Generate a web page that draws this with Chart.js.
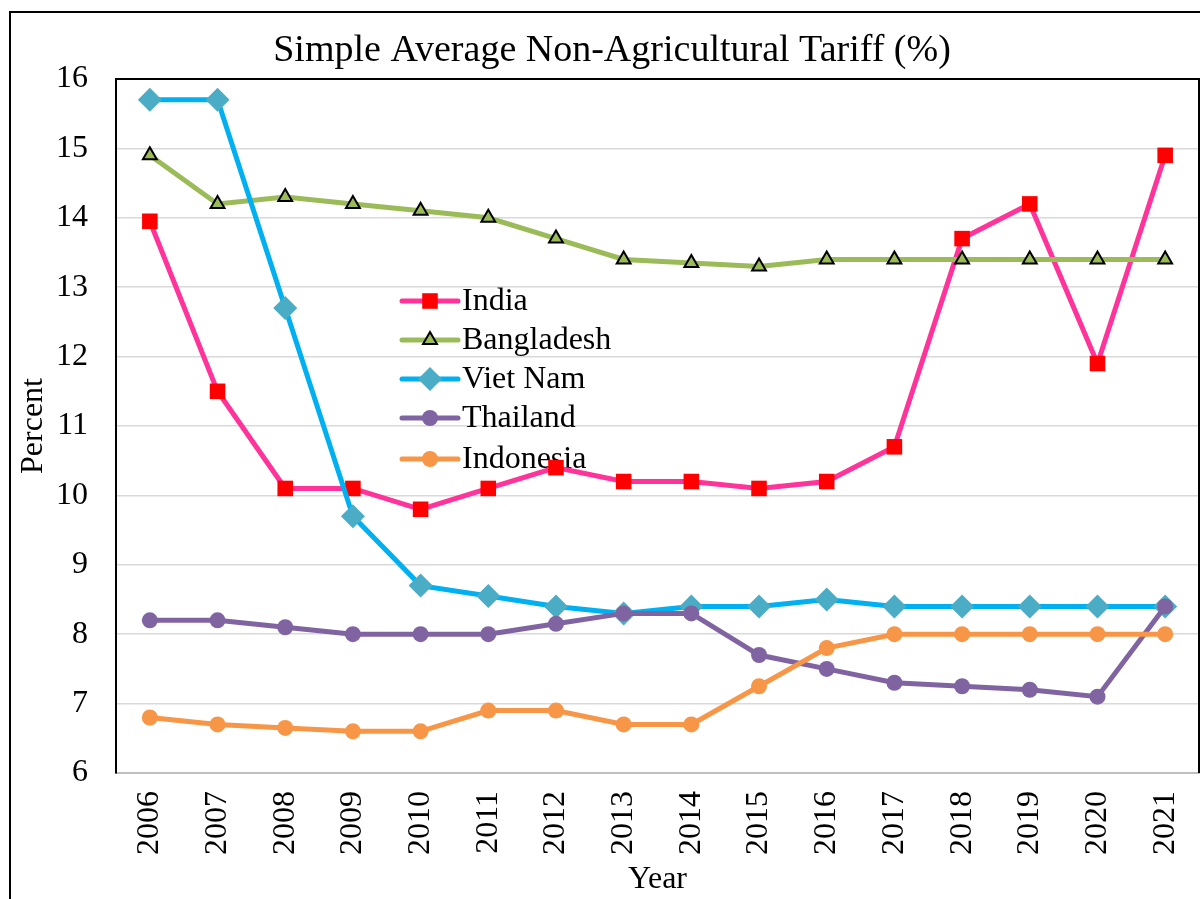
<!DOCTYPE html>
<html>
<head>
<meta charset="utf-8">
<script src="https://cdn.jsdelivr.net/npm/chart.js@4/dist/chart.umd.min.js"></script>
<style>
  html, body { margin: 0; padding: 0; background: #fff; }
  #wrap { position: relative; width: 1200px; height: 899px; }
</style>
</head>
<body>
<div id="wrap"><canvas id="c" width="1200" height="899"></canvas></div>
<script>
const years = ['2006','2007','2008','2009','2010','2011','2012','2013','2014','2015','2016','2017','2018','2019','2020','2021'];
const india      = [13.95, 11.5, 10.1, 10.1, 9.8, 10.1, 10.4, 10.2, 10.2, 10.1, 10.2, 10.7, 13.7, 14.2, 11.9, 14.9];
const bangladesh = [14.9, 14.2, 14.3, 14.2, 14.1, 14.0, 13.7, 13.4, 13.35, 13.3, 13.4, 13.4, 13.4, 13.4, 13.4, 13.4];
const vietnam    = [15.7, 15.7, 12.7, 9.7, 8.7, 8.55, 8.4, 8.3, 8.4, 8.4, 8.5, 8.4, 8.4, 8.4, 8.4, 8.4];
const thailand   = [8.2, 8.2, 8.1, 8.0, 8.0, 8.0, 8.15, 8.3, 8.3, 7.7, 7.5, 7.3, 7.25, 7.2, 7.1, 8.4];
const indonesia  = [6.8, 6.7, 6.65, 6.6, 6.6, 6.9, 6.9, 6.7, 6.7, 7.25, 7.8, 8.0, 8.0, 8.0, 8.0, 8.0];
const seriesNames = ['India', 'Bangladesh', 'Viet Nam', 'Thailand', 'Indonesia'];
const titleText = 'Simple Average Non-Agricultural Tariff (%)';

const FONT = "'Liberation Serif', 'Times New Roman', serif";

const datasets = [
  { label: seriesNames[0], data: india, borderColor: '#FF3399', backgroundColor: '#FF0000',
    pointStyle: 'rect', pointRadius: 11, pointBorderWidth: 0, pointBorderColor: '#FF0000', order: 5 },
  { label: seriesNames[1], data: bangladesh, borderColor: '#9BBB59', backgroundColor: '#9BBB59',
    pointStyle: 'triangle', pointRadius: 8, pointBorderWidth: 2, pointBorderColor: '#000000', order: 4 },
  { label: seriesNames[2], data: vietnam, borderColor: '#00B0F0', backgroundColor: '#4BACC6',
    pointStyle: 'rectRot', pointRadius: 12, pointBorderWidth: 0, pointBorderColor: '#4BACC6', order: 3 },
  { label: seriesNames[3], data: thailand, borderColor: '#8064A2', backgroundColor: '#8064A2',
    pointStyle: 'circle', pointRadius: 8, pointBorderWidth: 0, pointBorderColor: '#8064A2', order: 2 },
  { label: seriesNames[4], data: indonesia, borderColor: '#F79646', backgroundColor: '#F79646',
    pointStyle: 'circle', pointRadius: 8, pointBorderWidth: 0, pointBorderColor: '#F79646', order: 1 }
].map(d => Object.assign({
  borderWidth: 5, tension: 0, fill: false, clip: false,
  pointBackgroundColor: d.backgroundColor, pointHoverRadius: d.pointRadius
}, d));

const legendPlugin = {
  id: 'insideLegend',
  beforeDatasetsDraw(chart) {
    const ctx = chart.ctx;
    const x0 = 402, x1 = 458, tx = 462;
    const ys = [301, 340, 379, 418, 459];
    ctx.save();
    chart.data.datasets.forEach((ds, i) => {
      const y = ys[i];
      ctx.beginPath();
      ctx.strokeStyle = ds.borderColor;
      ctx.lineWidth = 5;
      ctx.lineCap = 'round';
      ctx.moveTo(x0, y); ctx.lineTo(x1, y); ctx.stroke();
      ctx.fillStyle = ds.pointBackgroundColor;
      ctx.strokeStyle = ds.pointBorderColor;
      ctx.lineWidth = ds.pointBorderWidth;
      Chart.helpers.drawPoint(ctx, {
        pointStyle: ds.pointStyle, radius: ds.pointRadius, borderWidth: ds.pointBorderWidth, rotation: 0
      }, (x0 + x1) / 2, y);
      ctx.fillStyle = '#000';
      ctx.font = '32px ' + FONT;
      ctx.textAlign = 'left';
      ctx.textBaseline = 'middle';
      ctx.fillText(ds.label, tx, y + 1);
    });
    ctx.restore();
  }
};

const framePlugin = {
  id: 'frame',
  afterDraw(chart) {
    const ctx = chart.ctx;
    const a = chart.chartArea;
    ctx.save();
    ctx.strokeStyle = '#000';
    ctx.lineWidth = 2;
    ctx.beginPath();
    ctx.moveTo(a.left, a.top); ctx.lineTo(a.right, a.top); ctx.lineTo(a.right, a.bottom);
    ctx.stroke();
    ctx.beginPath();
    ctx.moveTo(10, 899); ctx.lineTo(10, 12); ctx.lineTo(1200, 12);
    ctx.stroke();
    ctx.fillStyle = '#000';
    ctx.font = '38px ' + FONT;
    ctx.textAlign = 'center';
    ctx.textBaseline = 'alphabetic';
    ctx.fillText(titleText, 612, 61);
    ctx.restore();
  }
};

new Chart(document.getElementById('c'), {
  type: 'line',
  data: { labels: years, datasets: datasets },
  plugins: [legendPlugin, framePlugin],
  options: {
    responsive: false,
    animation: false,
    events: [],
    layout: { autoPadding: false, padding: { top: 79, right: 1, left: 0, bottom: 0 } },
    plugins: { legend: { display: false }, title: { display: false }, tooltip: { enabled: false } },
    scales: {
      x: {
        offset: true,
        grid: { display: false, drawTicks: false },
        border: { display: true, color: '#BFBFBF', width: 2 },
        ticks: { color: '#000', font: { family: FONT, size: 32 }, minRotation: 90, maxRotation: 90, padding: 18, autoSkip: false },
        title: { display: true, text: 'Year', color: '#000', font: { family: FONT, size: 32 }, padding: { top: 0, bottom: 0 } },
        afterFit(scale) { scale.height = 126; scale.paddingLeft = 0; scale.paddingRight = 0; }
      },
      y: {
        min: 6, max: 16,
        grid: { color: '#D9D9D9', lineWidth: 1.5, drawTicks: false },
        border: { display: true, color: '#000', width: 2 },
        ticks: { stepSize: 1, color: '#000', font: { family: FONT, size: 32 }, padding: 28 },
        title: { display: true, text: 'Percent', color: '#000', font: { family: FONT, size: 32 }, padding: { top: 14, bottom: 0 } },
        afterFit(scale) { scale.width = 116; }
      }
    }
  }
});
</script>
</body>
</html>
